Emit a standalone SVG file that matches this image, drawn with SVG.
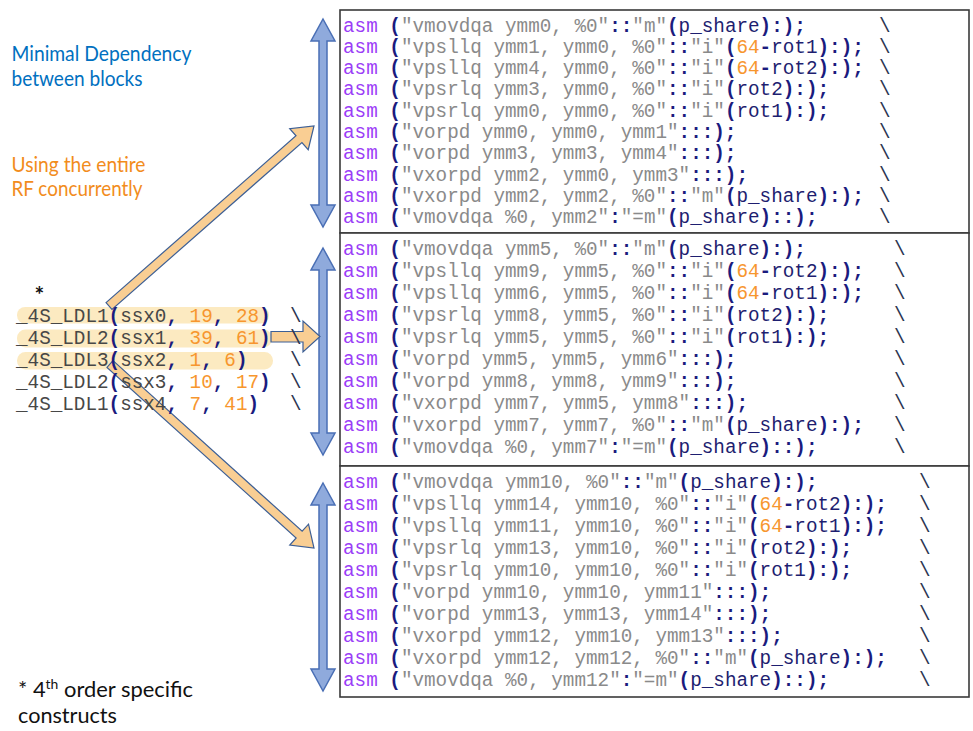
<svg xmlns="http://www.w3.org/2000/svg" width="973" height="731" viewBox="0 0 973 731">
<style>
.c{font-family:"Liberation Mono","Courier New",monospace;font-size:19.3px;fill:#1B1B7E;font-weight:bold}
.k{fill:#9B3DF7;font-weight:normal}
.s{fill:#8A8A8A;font-weight:normal}
.i{fill:#1E1E70;font-weight:normal}
.n{fill:#F7962E;font-weight:normal}
.g{fill:#474747;font-weight:normal}
.bs{font-family:"Liberation Mono",monospace;font-size:19.3px;fill:#2A3550}
.box{fill:#fff;stroke:#3a3a3a;stroke-width:1.6}
.lbl{font-family:Lato,"Open Sans",sans-serif;font-size:20.5px}
.note{font-family:Lato,"Open Sans",sans-serif;font-size:20.5px;fill:#111}
.hl{fill:#FCE6B6;opacity:0.85}
.blue{fill:#8FAADC;stroke:#4A6FB5;stroke-width:1.5}
.orange{fill:#F9CE93;stroke:#3D5F95;stroke-width:1.2}
</style>

<g id="block1">
<rect class="box" x="340" y="10" width="629" height="223"/>
<text class="c" x="343" y="31.5"><tspan class="k">asm</tspan> (<tspan class="s">"vmovdqa ymm0, %0"</tspan>::<tspan class="s">"m"</tspan>(<tspan class="i">p_share</tspan>):);</text>
<text class="c" x="343" y="52.8"><tspan class="k">asm</tspan> (<tspan class="s">"vpsllq ymm1, ymm0, %0"</tspan>::<tspan class="s">"i"</tspan>(<tspan class="n">64</tspan>-<tspan class="i">rot1</tspan>):);</text>
<text class="c" x="343" y="74.1"><tspan class="k">asm</tspan> (<tspan class="s">"vpsllq ymm4, ymm0, %0"</tspan>::<tspan class="s">"i"</tspan>(<tspan class="n">64</tspan>-<tspan class="i">rot2</tspan>):);</text>
<text class="c" x="343" y="95.4"><tspan class="k">asm</tspan> (<tspan class="s">"vpsrlq ymm3, ymm0, %0"</tspan>::<tspan class="s">"i"</tspan>(<tspan class="i">rot2</tspan>):);</text>
<text class="c" x="343" y="116.7"><tspan class="k">asm</tspan> (<tspan class="s">"vpsrlq ymm0, ymm0, %0"</tspan>::<tspan class="s">"i"</tspan>(<tspan class="i">rot1</tspan>):);</text>
<text class="c" x="343" y="138"><tspan class="k">asm</tspan> (<tspan class="s">"vorpd ymm0, ymm0, ymm1"</tspan>:::);</text>
<text class="c" x="343" y="159.3"><tspan class="k">asm</tspan> (<tspan class="s">"vorpd ymm3, ymm3, ymm4"</tspan>:::);</text>
<text class="c" x="343" y="180.6"><tspan class="k">asm</tspan> (<tspan class="s">"vxorpd ymm2, ymm0, ymm3"</tspan>:::);</text>
<text class="c" x="343" y="201.9"><tspan class="k">asm</tspan> (<tspan class="s">"vxorpd ymm2, ymm2, %0"</tspan>::<tspan class="s">"m"</tspan>(<tspan class="i">p_share</tspan>):);</text>
<text class="c" x="343" y="223.2"><tspan class="k">asm</tspan> (<tspan class="s">"vmovdqa %0, ymm2"</tspan>:<tspan class="s">"=m"</tspan>(<tspan class="i">p_share</tspan>)::);</text>
<text class="bs" x="879" y="31.5">\</text>
<text class="bs" x="879" y="52.8">\</text>
<text class="bs" x="879" y="74.1">\</text>
<text class="bs" x="879" y="95.4">\</text>
<text class="bs" x="879" y="116.7">\</text>
<text class="bs" x="879" y="138">\</text>
<text class="bs" x="879" y="159.3">\</text>
<text class="bs" x="879" y="180.6">\</text>
<text class="bs" x="879" y="201.9">\</text>
<text class="bs" x="879" y="223.2">\</text>
</g>

<g id="block2">
<rect class="box" x="340" y="233" width="629" height="233"/>
<text class="c" x="343" y="255"><tspan class="k">asm</tspan> (<tspan class="s">"vmovdqa ymm5, %0"</tspan>::<tspan class="s">"m"</tspan>(<tspan class="i">p_share</tspan>):);</text>
<text class="c" x="343" y="277"><tspan class="k">asm</tspan> (<tspan class="s">"vpsllq ymm9, ymm5, %0"</tspan>::<tspan class="s">"i"</tspan>(<tspan class="n">64</tspan>-<tspan class="i">rot2</tspan>):);</text>
<text class="c" x="343" y="299"><tspan class="k">asm</tspan> (<tspan class="s">"vpsllq ymm6, ymm5, %0"</tspan>::<tspan class="s">"i"</tspan>(<tspan class="n">64</tspan>-<tspan class="i">rot1</tspan>):);</text>
<text class="c" x="343" y="321"><tspan class="k">asm</tspan> (<tspan class="s">"vpsrlq ymm8, ymm5, %0"</tspan>::<tspan class="s">"i"</tspan>(<tspan class="i">rot2</tspan>):);</text>
<text class="c" x="343" y="343"><tspan class="k">asm</tspan> (<tspan class="s">"vpsrlq ymm5, ymm5, %0"</tspan>::<tspan class="s">"i"</tspan>(<tspan class="i">rot1</tspan>):);</text>
<text class="c" x="343" y="365"><tspan class="k">asm</tspan> (<tspan class="s">"vorpd ymm5, ymm5, ymm6"</tspan>:::);</text>
<text class="c" x="343" y="387"><tspan class="k">asm</tspan> (<tspan class="s">"vorpd ymm8, ymm8, ymm9"</tspan>:::);</text>
<text class="c" x="343" y="409"><tspan class="k">asm</tspan> (<tspan class="s">"vxorpd ymm7, ymm5, ymm8"</tspan>:::);</text>
<text class="c" x="343" y="431"><tspan class="k">asm</tspan> (<tspan class="s">"vxorpd ymm7, ymm7, %0"</tspan>::<tspan class="s">"m"</tspan>(<tspan class="i">p_share</tspan>):);</text>
<text class="c" x="343" y="453"><tspan class="k">asm</tspan> (<tspan class="s">"vmovdqa %0, ymm7"</tspan>:<tspan class="s">"=m"</tspan>(<tspan class="i">p_share</tspan>)::);</text>
<text class="bs" x="894" y="255">\</text>
<text class="bs" x="894" y="277">\</text>
<text class="bs" x="894" y="299">\</text>
<text class="bs" x="894" y="321">\</text>
<text class="bs" x="894" y="343">\</text>
<text class="bs" x="894" y="365">\</text>
<text class="bs" x="894" y="387">\</text>
<text class="bs" x="894" y="409">\</text>
<text class="bs" x="894" y="431">\</text>
<text class="bs" x="894" y="453">\</text>
</g>

<g id="block3">
<rect class="box" x="340" y="466" width="629" height="231"/>
<text class="c" x="343" y="488"><tspan class="k">asm</tspan> (<tspan class="s">"vmovdqa ymm10, %0"</tspan>::<tspan class="s">"m"</tspan>(<tspan class="i">p_share</tspan>):);</text>
<text class="c" x="343" y="510"><tspan class="k">asm</tspan> (<tspan class="s">"vpsllq ymm14, ymm10, %0"</tspan>::<tspan class="s">"i"</tspan>(<tspan class="n">64</tspan>-<tspan class="i">rot2</tspan>):);</text>
<text class="c" x="343" y="532"><tspan class="k">asm</tspan> (<tspan class="s">"vpsllq ymm11, ymm10, %0"</tspan>::<tspan class="s">"i"</tspan>(<tspan class="n">64</tspan>-<tspan class="i">rot1</tspan>):);</text>
<text class="c" x="343" y="554"><tspan class="k">asm</tspan> (<tspan class="s">"vpsrlq ymm13, ymm10, %0"</tspan>::<tspan class="s">"i"</tspan>(<tspan class="i">rot2</tspan>):);</text>
<text class="c" x="343" y="576"><tspan class="k">asm</tspan> (<tspan class="s">"vpsrlq ymm10, ymm10, %0"</tspan>::<tspan class="s">"i"</tspan>(<tspan class="i">rot1</tspan>):);</text>
<text class="c" x="343" y="598"><tspan class="k">asm</tspan> (<tspan class="s">"vorpd ymm10, ymm10, ymm11"</tspan>:::);</text>
<text class="c" x="343" y="620"><tspan class="k">asm</tspan> (<tspan class="s">"vorpd ymm13, ymm13, ymm14"</tspan>:::);</text>
<text class="c" x="343" y="642"><tspan class="k">asm</tspan> (<tspan class="s">"vxorpd ymm12, ymm10, ymm13"</tspan>:::);</text>
<text class="c" x="343" y="664"><tspan class="k">asm</tspan> (<tspan class="s">"vxorpd ymm12, ymm12, %0"</tspan>::<tspan class="s">"m"</tspan>(<tspan class="i">p_share</tspan>):);</text>
<text class="c" x="343" y="686"><tspan class="k">asm</tspan> (<tspan class="s">"vmovdqa %0, ymm12"</tspan>:<tspan class="s">"=m"</tspan>(<tspan class="i">p_share</tspan>)::);</text>
<text class="bs" x="919" y="488">\</text>
<text class="bs" x="919" y="510">\</text>
<text class="bs" x="919" y="532">\</text>
<text class="bs" x="919" y="554">\</text>
<text class="bs" x="919" y="576">\</text>
<text class="bs" x="919" y="598">\</text>
<text class="bs" x="919" y="620">\</text>
<text class="bs" x="919" y="642">\</text>
<text class="bs" x="919" y="664">\</text>
<text class="bs" x="919" y="686">\</text>
</g>

<g id="highlights">
<rect class="hl" x="17" y="307" width="252" height="16.5" rx="8"/>
<rect class="hl" x="17" y="329.5" width="255" height="18" rx="8.5"/>
<rect class="hl" x="17" y="352" width="256" height="17.5" rx="8.5"/>
</g>

<g id="connectors">
<path class="blue" d="M323,19 L335,41 L327,41 L327,205 L335,205 L323,227 L311,205 L319,205 L319,41 L311,41 Z"/>
<path class="blue" d="M323,248 L335,270 L327,270 L327,433 L335,433 L323,455 L311,433 L319,433 L319,270 L311,270 Z"/>
<path class="blue" d="M323,483 L335,505 L327,505 L327,669 L335,669 L323,691 L311,669 L319,669 L319,505 L311,505 Z"/>
<path class="orange" d="M106.03,302.62 L296,135.82 L289.73,128.68 L314,126 L308.21,149.72 L301.94,142.58 L111.97,309.38 Z"/>
<path class="orange" d="M271,331.5 L303,331.5 L303,321 L320,336.5 L303,352 L303,342 L271,342 Z"/>
<path class="orange" d="M113.01,360.66 L302.16,531.26 L308.53,524.2 L314,548 L289.77,545 L296.14,537.94 L106.99,367.34 Z"/>
</g>

<g id="macros">
<text x="34.5" y="303" style="font-family:Lato,'Open Sans',sans-serif;font-size:23px;font-weight:bold;fill:#111">*</text>
<text class="c" x="16" y="321.5"><tspan class="g">_4S_LDL1</tspan>(<tspan class="g">ssx0</tspan>, <tspan class="n">19</tspan>, <tspan class="n">28</tspan>)</text>
<text class="c" x="16" y="343.7"><tspan class="g">_4S_LDL2</tspan>(<tspan class="g">ssx1</tspan>, <tspan class="n">39</tspan>, <tspan class="n">61</tspan>)</text>
<text class="c" x="16" y="365.9"><tspan class="g">_4S_LDL3</tspan>(<tspan class="g">ssx2</tspan>, <tspan class="n">1</tspan>, <tspan class="n">6</tspan>)</text>
<text class="c" x="16" y="388.1"><tspan class="g">_4S_LDL2</tspan>(<tspan class="g">ssx3</tspan>, <tspan class="n">10</tspan>, <tspan class="n">17</tspan>)</text>
<text class="c" x="16" y="410.3"><tspan class="g">_4S_LDL1</tspan>(<tspan class="g">ssx4</tspan>, <tspan class="n">7</tspan>, <tspan class="n">41</tspan>)</text>
<text class="bs" x="290" y="321.5">\</text>
<text class="bs" x="290" y="343.7">\</text>
<text class="bs" x="290" y="365.9">\</text>
<text class="bs" x="290" y="388.1">\</text>
<text class="bs" x="290" y="410.3">\</text>
</g>

<g id="labels">
<text class="lbl" x="11.5" y="61" fill="#0070C0" textLength="180" lengthAdjust="spacingAndGlyphs">Minimal Dependency</text>
<text class="lbl" x="11.5" y="85.5" fill="#0070C0" textLength="131" lengthAdjust="spacingAndGlyphs">between blocks</text>
<text class="lbl" x="11.5" y="171.5" fill="#F28C1C" textLength="134" lengthAdjust="spacingAndGlyphs">Using the entire</text>
<text class="lbl" x="11.5" y="196" fill="#F28C1C" textLength="131" lengthAdjust="spacingAndGlyphs">RF concurrently</text>
<text class="note" x="18" y="697" textLength="175" lengthAdjust="spacingAndGlyphs">* 4<tspan dy="-8" font-size="13">th</tspan><tspan dy="8"> order specific</tspan></text>
<text class="note" x="18" y="723" textLength="99" lengthAdjust="spacingAndGlyphs">constructs</text>
</g>
</svg>
